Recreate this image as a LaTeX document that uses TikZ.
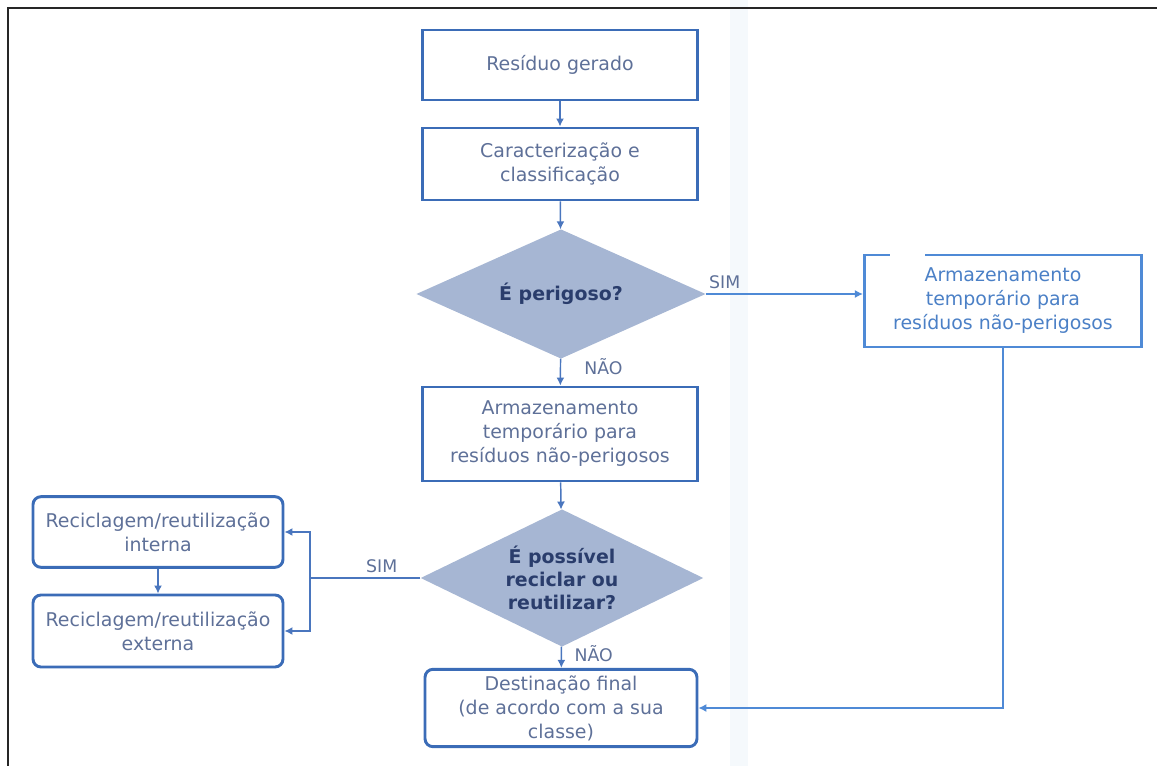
\documentclass[tikz,border=0pt]{standalone}
\usepackage{fontspec}
\setmainfont{DejaVu Sans}
\usetikzlibrary{shapes.geometric,arrows.meta}

\definecolor{azulcaixa}{HTML}{3B6CB7}
\definecolor{azullinha}{HTML}{4A76BE}
\definecolor{azulclaro}{HTML}{4F8AD6}
\definecolor{textocinza}{HTML}{5E7098}
\definecolor{textoazul}{HTML}{4B80C6}
\definecolor{losango}{HTML}{A6B6D3}
\definecolor{marinho}{HTML}{2A3D6C}
\definecolor{faixa}{HTML}{F5F9FC}

\tikzset{
  caixa/.style={draw=azulcaixa, line width=2.2pt, minimum width=206pt,
    inner sep=0pt, align=center, text=textocinza,
    font=\fontsize{14.2}{18}\selectfont},
  caixar/.style={caixa, rounded corners=6pt},
  decisao/.style={diamond, fill=losango, inner sep=0pt},
  pergunta/.style={align=center, text=marinho,
    font=\fontsize{14.2}{17.5}\selectfont\bfseries},
  seta/.style={draw=azullinha, line width=1.1pt, -{Latex[length=6pt,width=6pt]}},
  rotulo/.style={text=textocinza, font=\fontsize{13}{15}\selectfont}
}

\begin{document}
\begin{tikzpicture}[x=0.75pt,y=-0.75pt]
  \useasboundingbox (0,0) rectangle (1157,766);
  % faixa clara do fundo
  \fill[faixa] (730,0) rectangle (748,766);
  % moldura
  \draw[line width=2.2pt, black!85] (8,766) -- (8,8) -- (1157,8);

  % ------ coluna central ---------------
  \node[caixa, minimum height=52.5pt] (gerado) at (560,65) {Resíduo gerado};
  \node[caixa, minimum height=54pt] (caract) at (560,164)
    {Caracterização e\\classificação};
  \node[decisao, minimum width=217pt, minimum height=97pt,
    label={[pergunta]center:É perigoso?}] (perigoso) at (561,294) {};
  \node[caixa, minimum height=70.5pt] (armaz) at (560,434)
    {Armazenamento\\temporário para\\resíduos não-perigosos};
  \node[decisao, minimum width=212pt, minimum height=103pt,
    label={[pergunta]center:É possível\\reciclar ou\\reutilizar?}] (recicla) at (562,578) {};
  \node[caixar, minimum width=204pt, minimum height=58pt] (destino) at (561,708)
    {Destinação final\\(de acordo com a sua\\classe)};

  % ------ lado direito ---------------
  \node[caixa, draw=azulclaro, text=textoazul, minimum width=208pt,
    minimum height=69pt] (armazdir) at (1003,301)
    {Armazenamento\\temporário para\\resíduos não-perigosos};
  \draw[white, line width=3pt] (890,255) -- (925,255);

  % ------ lado esquerdo ---------------
  \node[caixar, minimum width=187.5pt, minimum height=53pt] (interna) at (158,532)
    {Reciclagem/reutilização\\interna};
  \node[caixar, minimum width=187.5pt, minimum height=54pt] (externa) at (158,631)
    {Reciclagem/reutilização\\externa};

  % ------ ligações ---------------
  \draw[seta] (gerado) -- (caract);
  \draw[seta] (caract) -- (perigoso);
  \draw[seta] (perigoso) -- node[rotulo, right=14pt, pos=0.3] {NÃO} (armaz);
  \draw[seta, line width=0.9pt, draw=azulclaro] (perigoso.east)
    -- node[rotulo, above, pos=0.12] {SIM} (perigoso.east -| armazdir.west);
  \draw[seta] (armaz) -- (recicla);
  \draw[seta] (recicla) -- node[rotulo, right=6pt, pos=0.35] {NÃO} (destino);
  \draw[seta] (interna) -- (externa);

  \coordinate (ramo) at (310,578);
  \draw[draw=azullinha, line width=1.1pt] (recicla.west)
    -- node[rotulo, above, pos=0.35] {SIM} (ramo);
  \draw[seta] (ramo) |- (interna.east);
  \draw[seta] (ramo) |- (externa.east);

  \draw[seta, line width=0.9pt, draw=azulclaro] (armazdir.south) |- (destino.east);
\end{tikzpicture}
\end{document}
